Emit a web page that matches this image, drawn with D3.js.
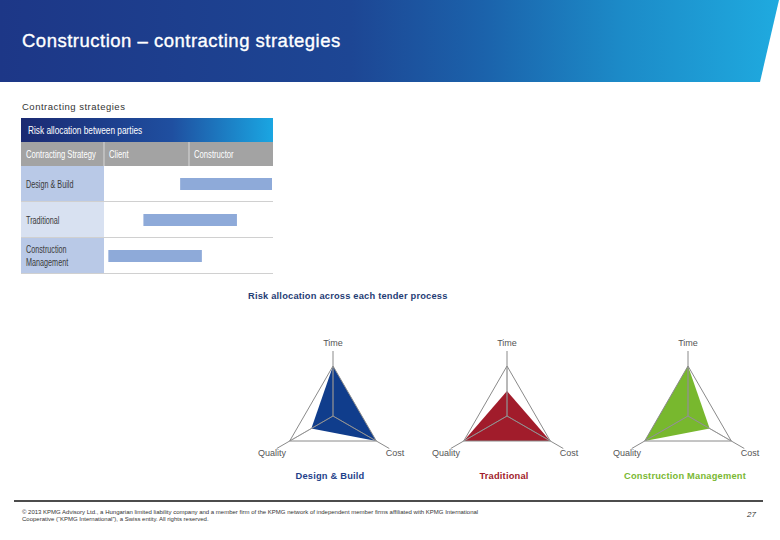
<!DOCTYPE html>
<html><head><meta charset="utf-8">
<script src="https://cdn.jsdelivr.net/npm/d3@7"></script>
<style>
html,body{margin:0;padding:0;background:#fff;}
svg{display:block;}
text{font-family:"Liberation Sans",Arial,sans-serif;}
</style></head>
<body>
<script>
// ---- data ----
const pageTitle = "Construction \u2013 contracting strategies";
const sectionTitle = "Contracting strategies";
const tableTitle = "Risk allocation between parties";
const tableColumns = ["Contracting Strategy", "Client", "Constructor"];
const strategies = ["Design & Build", "Traditional", "Construction Management"];
const strategyLabelLines = [["Design & Build"], ["Traditional"], ["Construction", "Management"]];
const riskStart = [45, 23, 2];    // % along client -> constructor
const riskEnd   = [100, 79, 58];
const radarTitle = "Risk allocation across each tender process";
const radarAxes = ["Time", "Cost", "Quality"];
const radarTime    = [1.0, 0.5, 1.0];
const radarCost    = [1.0, 1.0, 0.5];
const radarQuality = [0.5, 1.0, 1.0];
const radarColors = ["#103d8c", "#a11c2b", "#78b82e"];
const radarTitleColors = ["#1e3f8a", "#a11c2b", "#7ab833"];
const footerLines = [
 "\u00a9 2013 KPMG Advisory Ltd., a Hungarian limited liability company and a member firm of the KPMG network of independent member firms affiliated with KPMG International",
 "Cooperative (\u201cKPMG International\u201d), a Swiss entity. All rights reserved."
];
const pageNumber = "27";

const W = 780, H = 540;
const svg = d3.select("body").append("svg").attr("width", W).attr("height", H);
const defs = svg.append("defs");

// condensed text helper
function ctext(parent, xx, yy, str, size, fill, sx) {
  return parent.append("text")
    .attr("transform", `translate(${xx},${yy}) scale(${sx},1)`)
    .attr("fill", fill).attr("font-size", size).text(str);
}

// header band
const hg = defs.append("linearGradient").attr("id","hg").attr("x1","0").attr("x2","1").attr("y1","0").attr("y2","0");
hg.append("stop").attr("offset","0").attr("stop-color","#1d3787");
hg.append("stop").attr("offset","0.45").attr("stop-color","#1d4694");
hg.append("stop").attr("offset","0.62").attr("stop-color","#1b62ab");
hg.append("stop").attr("offset","0.8").attr("stop-color","#1c8bc8");
hg.append("stop").attr("offset","1").attr("stop-color","#1faadf");
svg.append("path").attr("d","M0,0 L779,0 L760,82 L0,82 Z").attr("fill","url(#hg)");
svg.append("text").attr("x",22).attr("y",47).attr("fill","#fff").attr("stroke","#fff").attr("stroke-width",0.35)
  .attr("font-size",18.5).attr("letter-spacing",0.5).text(pageTitle);

svg.append("text").attr("x",22).attr("y",110).attr("fill","#333").attr("font-size",9.5).attr("letter-spacing",0.5).text(sectionTitle);

// table
const tg = defs.append("linearGradient").attr("id","tg").attr("x1","0").attr("x2","1");
tg.append("stop").attr("offset","0").attr("stop-color","#1b2a72");
tg.append("stop").attr("offset","0.6").attr("stop-color","#1f4fa0");
tg.append("stop").attr("offset","1").attr("stop-color","#1aa6e2");
const tx0 = 21, tx1 = 273, col1 = 104, col2 = 189;
svg.append("rect").attr("x",tx0).attr("y",118).attr("width",tx1-tx0).attr("height",24).attr("fill","url(#tg)");
ctext(svg, 28, 133.5, tableTitle, 10.5, "#fff", 0.79);
svg.append("rect").attr("x",tx0).attr("y",142).attr("width",tx1-tx0).attr("height",24).attr("fill","#a3a3a3");
[tx0, col1, col2].forEach((cx,i)=>{
  ctext(svg, cx+5, 158, tableColumns[i], 10.5, "#fff", 0.73);
});
[col1, col2].forEach(cx=>svg.append("line").attr("x1",cx).attr("x2",cx).attr("y1",142).attr("y2",166).attr("stroke","#d8d8d8").attr("stroke-width",1));

const y = d3.scaleBand().domain(strategies).range([166, 274]).padding(0);
const x = d3.scaleLinear().domain([0,100]).range([col1+1, tx1-1]);
const rowFill = ["#b9c9e7","#d8e1f1","#b9c9e7"];
strategies.forEach((s,i)=>{
  svg.append("rect").attr("x",tx0).attr("y",y(s)).attr("width",col1-tx0).attr("height",y.bandwidth()).attr("fill",rowFill[i]);
  svg.append("line").attr("x1",tx0).attr("x2",tx1).attr("y1",y(s)+y.bandwidth()-0.5).attr("y2",y(s)+y.bandwidth()-0.5).attr("stroke","#d0d0d0");
  const lines = strategyLabelLines[i];
  const cy = y(s)+y.bandwidth()/2;
  lines.forEach((l,j)=>{
    ctext(svg, 26, cy+3.5+(j-(lines.length-1)/2)*12.5, l, 10.2, "#3a3a3a", 0.71);
  });
  svg.append("rect").attr("x",x(riskStart[i])).attr("y",cy-6).attr("width",x(riskEnd[i])-x(riskStart[i])).attr("height",12).attr("fill","#8eaad9");
});

// radar
svg.append("text").attr("x",248).attr("y",299).attr("fill","#1f3d75").attr("font-size",9.3).attr("font-weight","bold").attr("letter-spacing",0.2).text(radarTitle);
const centersX = [333, 507, 688], cyR = 416;
const r = d3.scaleLinear().domain([0,1]).range([0,50]);
const angles = radarAxes.map((a,i)=>i*2*Math.PI/3);
const radial = d3.lineRadial().angle((d,i)=>angles[i]).radius(d=>r(d)).curve(d3.curveLinearClosed);
strategies.forEach((s,k)=>{
  const g = svg.append("g").attr("transform",`translate(${centersX[k]},${cyR})`);
  const vals = [radarTime[k], radarCost[k], radarQuality[k]];
  g.append("path").attr("d", radial(vals)).attr("fill", radarColors[k]);
  g.append("path").attr("d", radial([1,1,1])).attr("fill","none").attr("stroke","#8a8a8a").attr("stroke-width",1);
  angles.forEach(a=>{
    g.append("line").attr("x1",0).attr("y1",0)
      .attr("x2",r(1.3)*Math.sin(a)).attr("y2",-r(1.3)*Math.cos(a))
      .attr("stroke","#8a8a8a").attr("stroke-width",1);
  });
  angles.forEach(a=>{
    g.append("line").attr("x1",0).attr("y1",0)
      .attr("x2",r(1)*Math.sin(a)).attr("y2",-r(1)*Math.cos(a))
      .attr("stroke","#9a9a9a").attr("stroke-opacity",0.7).attr("stroke-width",0.8);
  });
  g.append("text").attr("x",0).attr("y",-70).attr("text-anchor","middle").attr("fill","#555").attr("font-size",9).text(radarAxes[0]);
  g.append("text").attr("x",62).attr("y",40).attr("text-anchor","middle").attr("fill","#555").attr("font-size",9).text(radarAxes[1]);
  g.append("text").attr("x",-61).attr("y",40).attr("text-anchor","middle").attr("fill","#555").attr("font-size",9).text(radarAxes[2]);
  g.append("text").attr("x",-3).attr("y",63).attr("text-anchor","middle").attr("fill",radarTitleColors[k]).attr("font-size",9.3).attr("font-weight","bold").attr("letter-spacing",0.2).text(s);
});

// footer
svg.append("line").attr("x1",14).attr("x2",763).attr("y1",501).attr("y2",501).attr("stroke","#111").attr("stroke-width",1.3);
footerLines.forEach((t,i)=>{
  svg.append("text").attr("x",22).attr("y",514+i*7).attr("fill","#333").attr("font-size",6.0).text(t);
});
svg.append("text").attr("x",756).attr("y",517).attr("text-anchor","end").attr("fill","#333").attr("font-size",8).attr("font-style","italic").text(pageNumber);
</script>
</body></html>
